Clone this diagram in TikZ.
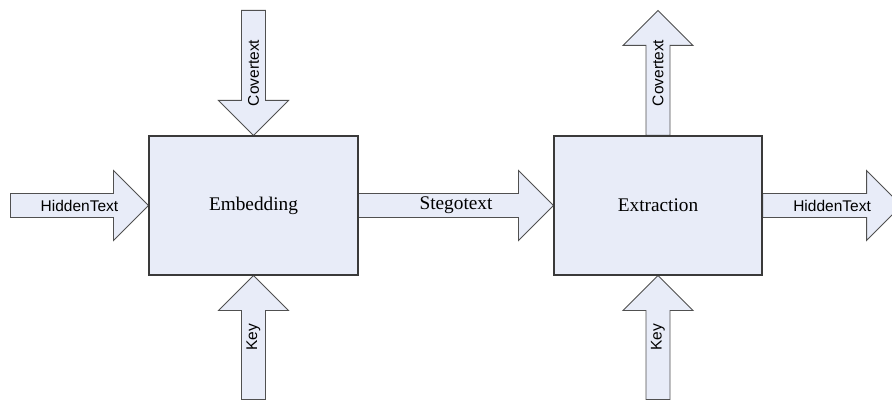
\documentclass[tikz,border=0pt]{standalone}
\usepackage{fontspec}
\setmainfont{Liberation Serif}
\setsansfont{Liberation Sans}
\usetikzlibrary{calc,backgrounds}
\definecolor{fillblue}{HTML}{E8ECF8}
\definecolor{edge}{HTML}{3A3A3A}
\definecolor{arrowedge}{HTML}{505050}
\tikzset{
  procbox/.style={draw=edge, line width=1.1pt, fill=fillblue, minimum width=209pt, minimum height=139pt, inner sep=0pt,
    font=\fontsize{19.3}{22}\selectfont},
  blk/.style={draw=arrowedge, line width=0.9pt, fill=fillblue, line join=miter},
  sanslabel/.style={font=\sffamily\fontsize{15.5}{18}\selectfont, inner sep=0pt},
  seriflabel/.style={font=\fontsize{19.3}{22}\selectfont, inner sep=0pt},
  pics/blockarrow/.style={code={
    \draw[blk] (-#1,-12) -- (-35,-12) -- (-35,-35) -- (0,0) -- (-35,35) -- (-35,12) -- (-#1,12) -- cycle;}}
}
\begin{document}
\begin{tikzpicture}[x=1pt,y=1pt]
\useasboundingbox (0,0) rectangle (892,401);
\clip (0,0) rectangle (892,401);
% boxes
\node[procbox] (emb) at (253.5,195.5) {Embedding};
\node[procbox, minimum width=208pt] (ext) at (658,195.5) {Extraction};
% coordinates for free ends
\coordinate (covout) at ($(ext.north)+(0,125)$);
\coordinate (hidout) at ($(ext.east)+(139,0)$);
% block arrows (behind the boxes)
\begin{scope}[on background layer]
\pic at (emb.west) {blockarrow=138};
\pic[rotate=-90] at (emb.north) {blockarrow=125};
\pic[rotate=90] at (emb.south) {blockarrow=124};
\pic at (ext.west) {blockarrow=196};
\pic[rotate=90] at (covout) {blockarrow=125};
\pic[rotate=90] at (ext.south) {blockarrow=124};
\pic at (hidout) {blockarrow=139};
\end{scope}
% labels
\node[sanslabel] (lhid) at ($(emb.west)+(-69,0)$) {HiddenText};
\node[sanslabel, rotate=90] (lcov) at ($(emb.north)+(0,62.5)$) {Covertext};
\node[sanslabel, rotate=90] (lkey) at ($(emb.south)+(0,-62)$) {Key};
\node[seriflabel] (lsteg) at ($(emb.east)!0.5!(ext.west)$) {Stegotext};
\node[sanslabel, rotate=90] (rcov) at ($(ext.north)+(0,62.5)$) {Covertext};
\node[sanslabel, rotate=90] (rkey) at ($(ext.south)+(0,-62)$) {Key};
\node[sanslabel] (rhid) at ($(ext.east)+(69.5,0)$) {HiddenText};
\end{tikzpicture}
\end{document}
